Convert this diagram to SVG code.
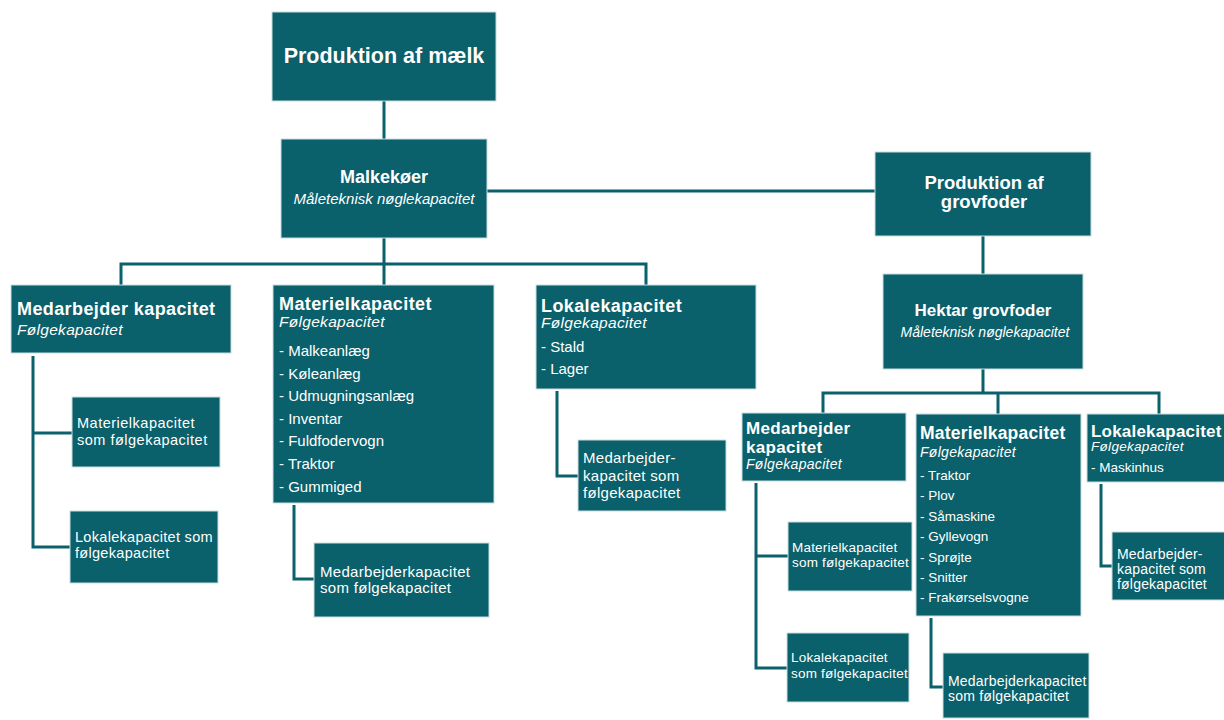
<svg xmlns="http://www.w3.org/2000/svg" width="1224" height="720" viewBox="0 0 1224 720">
<style>
.bx{fill:#0a606b;stroke:#c9dde0;stroke-width:1}
.c{fill:none;stroke:#0a606b;stroke-width:3}
text{font-family:"Liberation Sans",Arial,sans-serif;fill:#ffffff}
.b{font-weight:bold}
.i{font-style:italic}
.m{text-anchor:middle}
</style>
<rect width="1224" height="720" fill="#ffffff"/>
<g id="connectors">
<path class="c" d="M384,101V139"/>
<path class="c" d="M487,191H875"/>
<path class="c" d="M384,238V264M121,285V264H646V285M384,264V285"/>
<path class="c" d="M33,356V547H70M33,433H72"/>
<path class="c" d="M294,505V579H314"/>
<path class="c" d="M557,391V476H578"/>
<path class="c" d="M983,236V274"/>
<path class="c" d="M983,369V393M823,413V393H1159V414M998,393V414"/>
<path class="c" d="M756,483V668H787M756,556H788"/>
<path class="c" d="M931,618V687H943"/>
<path class="c" d="M1101,484V566H1112"/>
</g>
<g id="n-mælk">
<rect class="bx" x="272" y="12" width="224" height="89"/>
<text class="b m" x="384" y="63" font-size="21.5">Produktion af mælk</text>
</g>
<g id="n-malkekoer">
<rect class="bx" x="281" y="139" width="206" height="99"/>
<text class="b m" x="384" y="183" font-size="18">Malkekøer</text>
<text class="i m" x="384" y="204" font-size="15">Måleteknisk nøglekapacitet</text>
</g>
<g id="n-grovfoder">
<rect class="bx" x="875" y="152" width="216" height="84"/>
<text class="b m" x="984" y="189" font-size="18.5">Produktion af</text>
<text class="b m" x="984" y="208" font-size="18.5">grovfoder</text>
</g>
<g id="n-hektar">
<rect class="bx" x="883" y="274" width="200" height="95"/>
<text class="b m" x="983" y="316" font-size="17">Hektar grovfoder</text>
<text class="i m" x="985" y="337" font-size="14">Måleteknisk nøglekapacitet</text>
</g>
<g id="n-medarb1">
<rect class="bx" x="11" y="285" width="220" height="68"/>
<text class="b" x="17" y="315" font-size="18" letter-spacing="0.4">Medarbejder kapacitet</text>
<text class="i" x="17" y="335" font-size="15.5" letter-spacing="0.3">Følgekapacitet</text>
</g>
<g id="n-medarb1-mat">
<rect class="bx" x="72" y="397" width="148" height="70"/>
<text x="77" y="428" font-size="14.5" letter-spacing="0.5">Materielkapacitet</text>
<text x="77" y="445" font-size="14.5" letter-spacing="0.5">som følgekapacitet</text>
</g>
<g id="n-medarb1-lok">
<rect class="bx" x="70" y="511" width="148" height="72"/>
<text x="75" y="542" font-size="14.5" letter-spacing="0.3">Lokalekapacitet som</text>
<text x="75" y="558" font-size="14.5" letter-spacing="0.3">følgekapacitet</text>
</g>
<g id="n-materiel1">
<rect class="bx" x="273" y="285" width="221" height="218"/>
<text class="b" x="279" y="310" font-size="18" letter-spacing="0.4">Materielkapacitet</text>
<text class="i" x="279" y="327" font-size="15.5" letter-spacing="0.3">Følgekapacitet</text>
<text x="279" y="356" font-size="15">- Malkeanlæg</text>
<text x="279" y="378.6" font-size="15">- Køleanlæg</text>
<text x="279" y="401.2" font-size="15">- Udmugningsanlæg</text>
<text x="279" y="423.8" font-size="15">- Inventar</text>
<text x="279" y="446.4" font-size="15">- Fuldfodervogn</text>
<text x="279" y="469" font-size="15">- Traktor</text>
<text x="279" y="491.6" font-size="15">- Gummiged</text>
</g>
<g id="n-materiel1-med">
<rect class="bx" x="314" y="543" width="175" height="74"/>
<text x="320" y="577" font-size="15" letter-spacing="0.3">Medarbejderkapacitet</text>
<text x="320" y="593" font-size="15" letter-spacing="0.3">som følgekapacitet</text>
</g>
<g id="n-lokale1">
<rect class="bx" x="536" y="285" width="220" height="104"/>
<text class="b" x="541" y="312" font-size="18" letter-spacing="0.4">Lokalekapacitet</text>
<text class="i" x="541" y="328" font-size="15.5" letter-spacing="0.3">Følgekapacitet</text>
<text x="541" y="352" font-size="15">- Stald</text>
<text x="541" y="374" font-size="15">- Lager</text>
</g>
<g id="n-lokale1-med">
<rect class="bx" x="578" y="440" width="148" height="71"/>
<text x="583" y="463" font-size="15" letter-spacing="0.3">Medarbejder-</text>
<text x="583" y="481" font-size="15" letter-spacing="0.3">kapacitet som</text>
<text x="583" y="498" font-size="15" letter-spacing="0.3">følgekapacitet</text>
</g>
<g id="n-medarb2">
<rect class="bx" x="742" y="413" width="164" height="68"/>
<text class="b" x="746" y="434" font-size="17" letter-spacing="0.3">Medarbejder</text>
<text class="b" x="746" y="453" font-size="17" letter-spacing="0.3">kapacitet</text>
<text class="i" x="746" y="469" font-size="14" letter-spacing="0.3">Følgekapacitet</text>
</g>
<g id="n-medarb2-mat">
<rect class="bx" x="788" y="522" width="124" height="69"/>
<text x="792" y="552" font-size="13.5" letter-spacing="0.2">Materielkapacitet</text>
<text x="792" y="567" font-size="13.5" letter-spacing="0.2">som følgekapacitet</text>
</g>
<g id="n-medarb2-lok">
<rect class="bx" x="787" y="633" width="122" height="69"/>
<text x="791" y="662" font-size="13.5" letter-spacing="0.2">Lokalekapacitet</text>
<text x="791" y="678" font-size="13.5" letter-spacing="0.2">som følgekapacitet</text>
</g>
<g id="n-materiel2">
<rect class="bx" x="916" y="414" width="165" height="202"/>
<text class="b" x="920" y="439" font-size="17.5" letter-spacing="0.2">Materielkapacitet</text>
<text class="i" x="920" y="457" font-size="14" letter-spacing="0.3">Følgekapacitet</text>
<text x="920" y="480" font-size="13.5">- Traktor</text>
<text x="920" y="500.4" font-size="13.5">- Plov</text>
<text x="920" y="520.8" font-size="13.5">- Såmaskine</text>
<text x="920" y="541.2" font-size="13.5">- Gyllevogn</text>
<text x="920" y="561.6" font-size="13.5">- Sprøjte</text>
<text x="920" y="582" font-size="13.5">- Snitter</text>
<text x="920" y="602.4" font-size="13.5">- Frakørselsvogne</text>
</g>
<g id="n-materiel2-med">
<rect class="bx" x="943" y="653" width="146" height="65"/>
<text x="948" y="686" font-size="14" letter-spacing="0.2">Medarbejderkapacitet</text>
<text x="948" y="701" font-size="14" letter-spacing="0.2">som følgekapacitet</text>
</g>
<g id="n-lokale2">
<rect class="bx" x="1087" y="414" width="140" height="68"/>
<text class="b" x="1091" y="437" font-size="17" letter-spacing="0.2">Lokalekapacitet</text>
<text class="i" x="1091" y="451" font-size="13.5" letter-spacing="0.3">Følgekapacitet</text>
<text x="1091" y="472" font-size="13.5">- Maskinhus</text>
</g>
<g id="n-lokale2-med">
<rect class="bx" x="1112" y="532" width="115" height="68"/>
<text x="1117" y="559" font-size="14" letter-spacing="0.2">Medarbejder-</text>
<text x="1117" y="574" font-size="14" letter-spacing="0.2">kapacitet som</text>
<text x="1117" y="589" font-size="14" letter-spacing="0.2">følgekapacitet</text>
</g>
</svg>
